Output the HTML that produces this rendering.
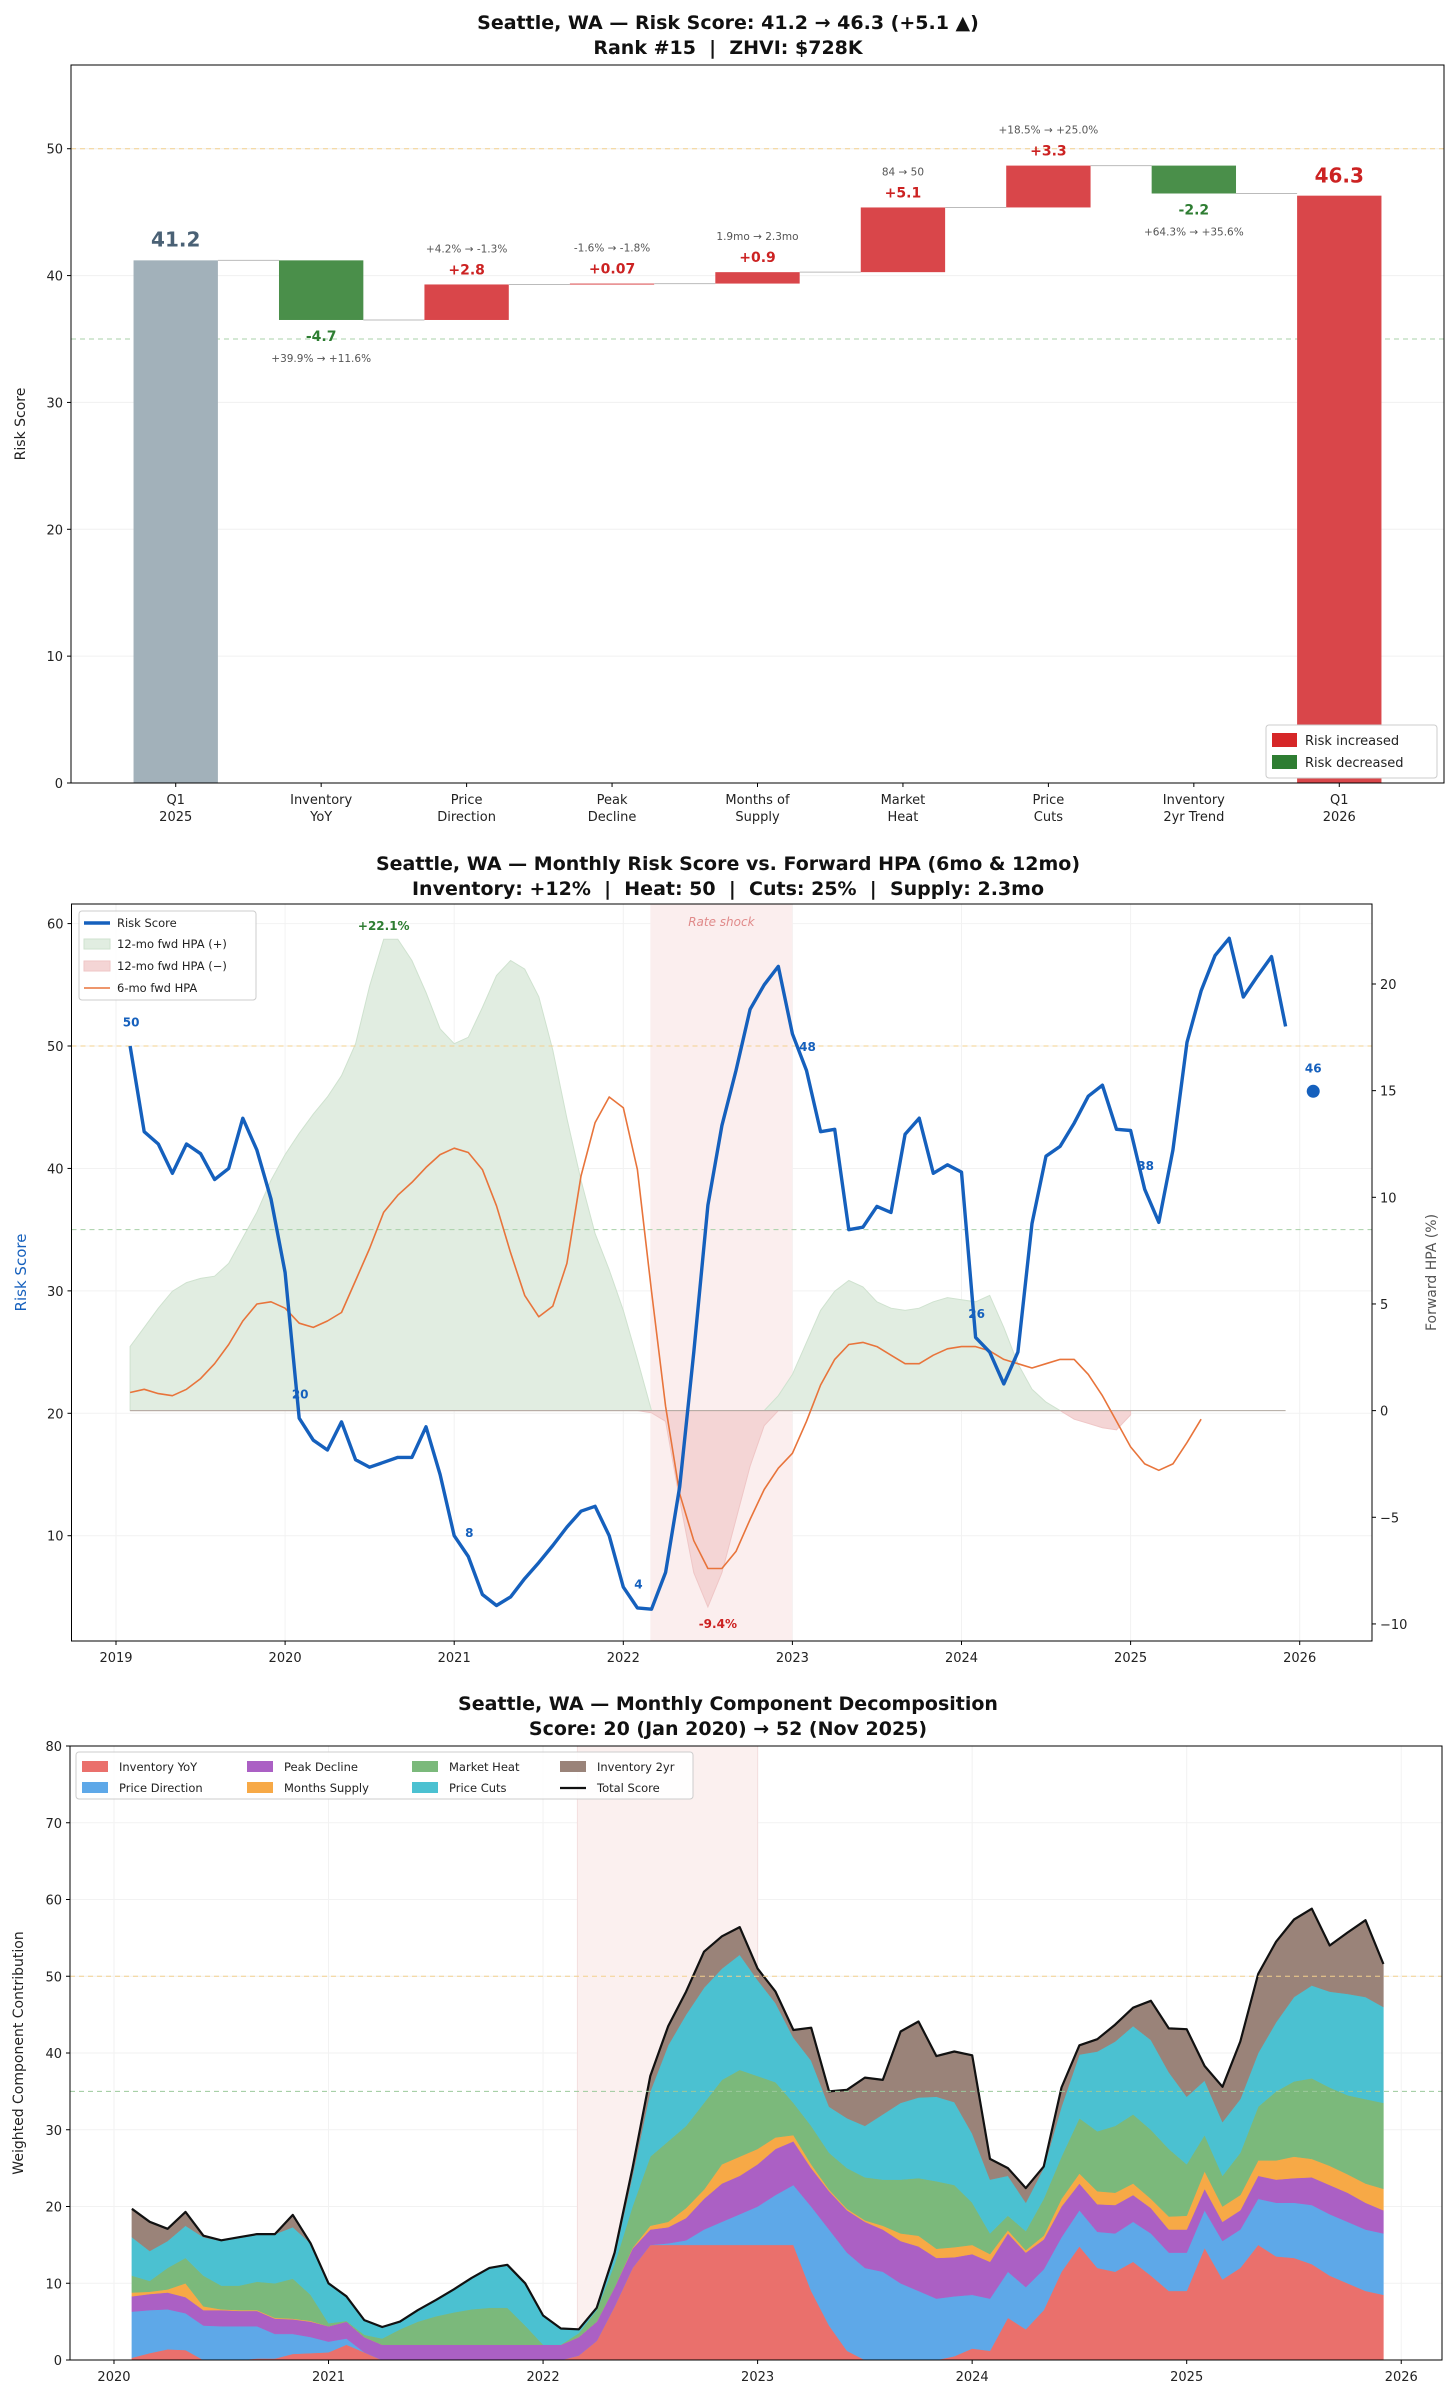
<!DOCTYPE html>
<html><head><meta charset="utf-8"><style>
html,body{margin:0;padding:0;background:#fff;}
svg{display:block;font-family:"DejaVu Sans","Liberation Sans",sans-serif;}
</style></head><body>
<svg id="chart" width="1456" height="2401" viewBox="0 0 1456 2401" xmlns="http://www.w3.org/2000/svg"></svg>
<script>
// ---------- DATA ----------
const p1Cats = [["Q1","2025"],["Inventory","YoY"],["Price","Direction"],["Peak","Decline"],["Months of","Supply"],["Market","Heat"],["Price","Cuts"],["Inventory","2yr Trend"],["Q1","2026"]];
const p1Start = 41.2;
const p1End = 46.3;
const p1Deltas = [-4.7, 2.8, 0.07, 0.9, 5.1, 3.3, -2.2];
const p1DeltaLabels = ["-4.7","+2.8","+0.07","+0.9","+5.1","+3.3","-2.2"];
const p1Notes = ["+39.9% → +11.6%","+4.2% → -1.3%","-1.6% → -1.8%","1.9mo → 2.3mo","84 → 50","+18.5% → +25.0%","+64.3% → +35.6%"];
const p1Ticks = [0,10,20,30,40,50];

const riskScore = [50,43,42,39.6,42,41.2,39.1,40,44.1,41.5,37.5,
31.5,19.6,17.8,17,19.3,16.2,15.6,16,16.4,16.4,18.9,15,
10,8.3,5.2,4.3,5,6.5,7.8,9.2,10.7,12,12.4,10,
5.8,4.1,4,7,14,25,37,43.5,48,53,55,56.5,
51,48,43,43.2,35,35.2,36.9,36.4,42.8,44.1,39.6,40.3,
39.7,26.2,25,22.4,25,35.5,41,41.8,43.7,45.9,46.8,43.2,
43.1,38.3,35.6,41.5,50.3,54.5,57.4,58.8,54,55.7,57.3,51.6];
const hpa12 = [3.0,3.9,4.8,5.6,6.0,6.2,6.3,6.9,8.1,9.3,10.8,
12.0,13.0,13.9,14.7,15.7,17.2,19.9,22.1,22.1,21.1,19.6,17.9,
17.2,17.5,18.9,20.4,21.1,20.7,19.4,16.9,13.7,10.8,8.3,6.6,
4.7,2.4,-0.1,-0.5,-4.2,-7.6,-9.2,-7.6,-5.1,-2.6,-0.7,0.7,
1.7,3.2,4.7,5.6,6.1,5.8,5.1,4.8,4.7,4.8,5.1,5.3,
5.2,5.1,5.4,3.9,2.2,1.0,0.4,0,-0.4,-0.6,-0.8,-0.9,-0.2];
const hpa6 = [0.85,1.0,0.8,0.7,1.0,1.5,2.2,3.1,4.2,5.0,5.1,
4.8,4.1,3.9,4.2,4.6,6.1,7.6,9.3,10.1,10.7,11.4,12.0,
12.3,12.1,11.3,9.6,7.4,5.4,4.4,4.9,6.9,11.0,13.5,14.7,
14.2,11.3,5.6,0.2,-3.9,-6.1,-7.4,-7.4,-6.6,-5.1,-3.7,-2.7,
-2.0,-0.5,1.2,2.4,3.1,3.2,3.0,2.6,2.2,2.2,2.6,2.9,
3.0,3.0,2.8,2.4,2.2,2.0,2.2,2.4,2.4,1.7,0.7,-0.5,
-1.7,-2.5,-2.8,-2.5,-1.5,-0.4];
const p2StartYear = 2019;
const p2Years = [2019,2020,2021,2022,2023,2024,2025,2026];
const p2LeftTicks = [10,20,30,40,50,60];
const p2RightTicks = [-10,-5,0,5,10,15,20];
const currentScore = 46.3;
const currentYear = 2026.08;
const rateShock = [2022.16, 2023.0];

const compNames = ["Inventory YoY","Price Direction","Peak Decline","Months Supply","Market Heat","Price Cuts","Inventory 2yr"];
const cInv = [0.3,0.9,1.4,1.3,0,0,0,0.2,0.2,0.8,0.9,1.0,2.0,1.0,0,0,0,0,0,0,0,0,0,0,0,0.6,2.5,7,12,15,15,15,15,15,15,15,15,15,9,4.5,1.2,0,0,0,0,0,0.5,1.5,1.2,5.5,4,6.5,11.5,14.8,12,11.5,12.8,11,9,9,14.6,10.5,12,15,13.5,13.3,12.5,11,10,9,8.5];
const cPrice = [6.0,5.6,5.2,4.8,4.5,4.4,4.4,4.2,3.2,2.6,2.1,1.4,0.8,0,0,0,0,0,0,0,0,0,0,0,0,0,0,0,0,0,0.2,0.6,2.0,3.0,4.0,5.0,6.5,7.8,11,12.5,12.8,12,11.5,10,9,8,7.8,7,6.8,6,5.5,5.3,4.5,4.7,4.7,5,5.2,5.5,5,5,4.9,5,5,6,7,7.2,7.7,8,8,8,8];
const cPeak = [2.0,2.1,2.2,2.1,2.0,2.1,2.0,2.0,2.0,1.9,2.0,2.0,2.2,2.0,2,2,2,2,2,2,2,2,2,2,2,2.4,2.5,2.5,2.5,2.0,2.1,2.9,4.0,5.0,5.0,5.5,6.0,5.7,5,5,5.5,6,5.5,5.5,5.8,5.3,5.1,5.3,4.8,5,4.5,3.9,4,3.5,3.6,3.7,3.5,3.3,3,3,2.8,2.5,2.5,3,3,3.2,3.6,3.8,3.8,3.5,3];
const cSupply = [0.5,0.3,0.4,1.8,0.5,0.1,0.1,0.1,0.1,0.1,0.1,0,0,0,0,0,0,0,0,0,0,0,0,0,0,0,0,0,0.1,0.5,0.7,1.3,1.2,2.5,2.5,2.0,1.5,0.8,0.5,0.2,0.2,0.2,0.5,1,1.4,1.2,1.3,1.2,1,0.4,0.3,0.5,1,1.3,1.7,1.6,1.5,1.2,1.7,1.8,2.3,2,2,2,2.5,2.8,2.4,2.5,2.4,2.5,2.8];
const cHeat = [2.2,1.4,2.8,3.3,4.0,3.1,3.2,3.7,4.5,5.2,3.4,0.4,0.1,0.3,0.8,2.0,3.0,3.7,4.2,4.6,4.8,4.8,2.5,0,0,0.5,1.5,3.0,5.4,9.0,10.5,10.7,11.3,11.0,11.3,9.5,7.2,4.2,5,4.8,5.3,5.6,6,7,7.5,8.8,8.1,5.5,2.7,1.9,2.5,4.8,5.5,7.2,7.8,8.7,9,9,8.8,6.7,4.7,4,5.5,7,9,9.8,10.5,10.2,10.3,11,11.2];
const cCuts = [5.0,3.9,3.5,4.2,5.0,5.8,6.2,6.1,6.4,6.7,6.7,5.2,3.2,1.9,1.5,1.0,1.5,2.1,3.0,4.1,5.2,5.6,5.5,3.8,2.1,0.5,0.3,1.0,4.0,8.5,12.5,14.5,15.0,14.5,15.0,12.5,10.3,8.5,8.5,6,6.5,6.7,8.5,10,10.5,11,10.8,9,7,5.2,3.7,4,6.5,8.3,10.4,11,11.5,11.7,10,8.8,7.1,7,7,7,9,11,12.1,12.5,13.2,13.3,12.5];
const cInv2 = [3.7,3.8,1.6,1.8,0.2,0.1,0.1,0.1,0,1.6,0,0,0,0,0,0,0,0,0,0,0,0,0,0,0,0,0,0.5,1.0,2.0,2.5,3.0,4.7,4.2,3.6,1.5,1.5,1.0,4.3,2,3.7,6.3,4.5,9.3,9.9,5.3,6.6,10.2,2.7,1,1.9,0.2,2.5,1.2,1.6,2.2,2.4,5.1,5.7,8.8,1.9,4.6,7.5,10.3,10.5,10.1,10,6,8,10,5.6];
const p3StartYear = 2020;
const p3Years = [2020,2021,2022,2023,2024,2025,2026];
const p3Ticks = [0,10,20,30,40,50,60,70,80];

// ---------- HELPERS ----------
const NS = "http://www.w3.org/2000/svg";
const svg = document.getElementById("chart");
function mk(tag, attrs, parent) {
  const e = document.createElementNS(NS, tag);
  for (const k in attrs) e.setAttribute(k, attrs[k]);
  (parent || svg).appendChild(e);
  return e;
}
function txt(str, attrs, parent) {
  const e = mk("text", attrs, parent);
  e.textContent = str;
  return e;
}
const NB = "\u00a0";

// ================= PANEL 1 =================
const g1 = mk("g", {});


const A1 = {l:71, r:1444, t:65, b:783, ymax:56.6, xmin:-0.72, xmax:8.72};
const x1 = i => A1.l + (i - A1.xmin) / (A1.xmax - A1.xmin) * (A1.r - A1.l);
const y1 = v => A1.b - v / A1.ymax * (A1.b - A1.t);

let t = txt("Seattle, WA — Risk Score: 41.2 → 46.3 (+5.1 ▲)", {x:728, y:29, "text-anchor":"middle", "font-size":19, "font-weight":"bold", fill:"#111"}, g1);


t = txt("Rank #15" + NB + NB + "|" + NB + NB + "ZHVI: $728K", {x:728, y:54, "text-anchor":"middle", "font-size":19, "font-weight":"bold", fill:"#111"}, g1);



p1Ticks.forEach(v => {
  const gl = mk("line", {x1:A1.l, x2:A1.r, y1:y1(v), y2:y1(v), stroke:"#f0f0f0", "stroke-width":1}, g1);
  
  
  const tk = mk("line", {x1:A1.l-4, x2:A1.l, y1:y1(v), y2:y1(v), stroke:"#000"}, g1);
  
  
  const tl = txt(String(v), {x:A1.l-8, y:y1(v)+5, "text-anchor":"end", "font-size":13, fill:"#222"}, g1);
  
  
});
let rl = mk("line", {x1:A1.l, x2:A1.r, y1:y1(50), y2:y1(50), stroke:"#f3d08e", "stroke-dasharray":"5,4", "stroke-width":1}, g1);


rl = mk("line", {x1:A1.l, x2:A1.r, y1:y1(35), y2:y1(35), stroke:"#a8d0a8", "stroke-dasharray":"5,4", "stroke-width":1}, g1);



const bw = 0.58;
const bwPx = x1(bw) - x1(0);
let b = mk("rect", {x:x1(0)-bwPx/2, y:y1(p1Start), width:bwPx, height:y1(0)-y1(p1Start), fill:"#a2b1ba"}, g1);


t = txt(p1Start.toFixed(1), {x:x1(0), y:y1(p1Start)-14, "text-anchor":"middle", "font-size":20, "font-weight":"bold", fill:"#4a6175"}, g1);



let level = p1Start;
p1Deltas.forEach((d, k) => {
  const i = k + 1;
  const prev = level;
  const next = level + d;
  const cn = mk("line", {x1:x1(i-1)+bwPx/2, x2:x1(i)-bwPx/2, y1:y1(prev), y2:y1(prev), stroke:"#bbb", "stroke-width":1}, g1);
  
  
  const top = Math.max(prev, next), bot = Math.min(prev, next);
  const pos = d >= 0;
  const r = mk("rect", {x:x1(i)-bwPx/2, y:y1(top), width:bwPx, height:Math.max(1, y1(bot)-y1(top)), fill: pos ? "#d9464a" : "#4a8f4a"}, g1);
  
  
  if (pos) {
    const dl = txt(p1DeltaLabels[k], {x:x1(i), y:y1(top)-10, "text-anchor":"middle", "font-size":14, "font-weight":"bold", fill:"#cc2222"}, g1);
    
    
    const nl = txt(p1Notes[k], {x:x1(i), y:y1(top)-32, "text-anchor":"middle", "font-size":10.5, fill:"#555"}, g1);
    
    
  } else {
    const dl = txt(p1DeltaLabels[k], {x:x1(i), y:y1(bot)+21, "text-anchor":"middle", "font-size":14, "font-weight":"bold", fill:"#2e7d32"}, g1);
    
    
    const nl = txt(p1Notes[k], {x:x1(i), y:y1(bot)+42, "text-anchor":"middle", "font-size":10.5, fill:"#555"}, g1);
    
    
  }
  level = next;
});
let cn2 = mk("line", {x1:x1(7)+bwPx/2, x2:x1(8)-bwPx/2, y1:y1(level), y2:y1(level), stroke:"#bbb", "stroke-width":1}, g1);


b = mk("rect", {x:x1(8)-bwPx/2, y:y1(p1End), width:bwPx, height:y1(0)-y1(p1End), fill:"#d9464a"}, g1);


t = txt(p1End.toFixed(1), {x:x1(8), y:y1(p1End)-13, "text-anchor":"middle", "font-size":20, "font-weight":"bold", fill:"#cc2222"}, g1);



p1Cats.forEach((c, i) => {
  const tk = mk("line", {x1:x1(i), x2:x1(i), y1:A1.b, y2:A1.b+4, stroke:"#000"}, g1);
  
  
  const tl = txt(c[0], {x:x1(i), y:A1.b+21, "text-anchor":"middle", "font-size":13, fill:"#222"}, g1);
  
  
  const tl2 = txt(c[1], {x:x1(i), y:A1.b+38, "text-anchor":"middle", "font-size":13, fill:"#222"}, g1);
  
  
});
let fr = mk("rect", {x:A1.l, y:A1.t, width:A1.r-A1.l, height:A1.b-A1.t, fill:"none", stroke:"#000", "stroke-width":1}, g1);


t = txt("Risk Score", {x:0, y:0, transform:`translate(25,${(A1.t+A1.b)/2}) rotate(-90)`, "text-anchor":"middle", "font-size":14, fill:"#222"}, g1);


const lg1 = mk("g", {}, g1);


mk("rect", {x:1266, y:725, width:171, height:53, fill:"#fff", stroke:"#ccc", rx:3}, lg1);
let le = mk("rect", {x:1272, y:733, width:25, height:14, fill:"#d62728"}, lg1);


le = txt("Risk increased", {x:1305, y:745, "font-size":13, fill:"#222"}, lg1);


le = mk("rect", {x:1272, y:755, width:25, height:14, fill:"#2e7d32"}, lg1);


le = txt("Risk decreased", {x:1305, y:767, "font-size":13, fill:"#222"}, lg1);



// ================= PANEL 2 =================
const g2 = mk("g", {});


const A2 = {l:71.5, r:1372, t:904, b:1641, ymin:1.4, ymax:61.6, rmin:-10.8, rmax:23.75};
const xYear2 = yr => 116 + (yr - 2019) * 169.1;
const mYear = i => p2StartYear + (i + 1) / 12;
const yL = v => A2.b - (v - A2.ymin) / (A2.ymax - A2.ymin) * (A2.b - A2.t);
const yR = v => A2.b - (v - A2.rmin) / (A2.rmax - A2.rmin) * (A2.b - A2.t);

t = txt("Seattle, WA — Monthly Risk Score vs. Forward HPA (6mo & 12mo)", {x:728, y:870, "text-anchor":"middle", "font-size":19, "font-weight":"bold", fill:"#111"}, g2);


t = txt("Inventory: +12%" + NB + NB + "|" + NB + NB + "Heat: 50" + NB + NB + "|" + NB + NB + "Cuts: 25%" + NB + NB + "|" + NB + NB + "Supply: 2.3mo", {x:728, y:895, "text-anchor":"middle", "font-size":19, "font-weight":"bold", fill:"#111"}, g2);



p2Years.forEach(yr => {
  const gl = mk("line", {x1:xYear2(yr), x2:xYear2(yr), y1:A2.t, y2:A2.b, stroke:"#f2f2f2"}, g2);
  
  
});
p2LeftTicks.forEach(v => {
  const gl = mk("line", {x1:A2.l, x2:A2.r, y1:yL(v), y2:yL(v), stroke:"#f2f2f2"}, g2);
  
  
});
let band = mk("rect", {x:xYear2(rateShock[0]), y:A2.t, width:xYear2(rateShock[1])-xYear2(rateShock[0]), height:A2.b-A2.t, fill:"#fbeeee"}, g2);


t = txt("Rate shock", {x:(xYear2(rateShock[0])+xYear2(rateShock[1]))/2, y:926, "text-anchor":"middle", "font-size":12, "font-style":"italic", fill:"#e08a8a"}, g2);



function fillPath(arr, sign) {
  let d = "";
  arr.forEach((v, i) => {
    const c = sign > 0 ? Math.max(v, 0) : Math.min(v, 0);
    d += (i ? "L" : "M") + xYear2(mYear(i)).toFixed(1) + "," + yR(c).toFixed(1);
  });
  for (let i = arr.length - 1; i >= 0; i--) d += "L" + xYear2(mYear(i)).toFixed(1) + "," + yR(0).toFixed(1);
  return d + "Z";
}
let fp = mk("path", {d:fillPath(hpa12, 1), fill:"#e1ede1", stroke:"#cfe2cf", "stroke-width":1}, g2);


fp = mk("path", {d:fillPath(hpa12, -1), fill:"#f4d5d5", stroke:"#efc6c6", "stroke-width":1}, g2);


let zl = mk("line", {x1:xYear2(mYear(0)), x2:xYear2(mYear(riskScore.length-1)), y1:yR(0), y2:yR(0), stroke:"#b0a8a0", "stroke-width":1}, g2);


rl = mk("line", {x1:A2.l, x2:A2.r, y1:yL(50), y2:yL(50), stroke:"#f3d08e", "stroke-dasharray":"5,4"}, g2);


rl = mk("line", {x1:A2.l, x2:A2.r, y1:yL(35), y2:yL(35), stroke:"#a8d0a8", "stroke-dasharray":"5,4"}, g2);



let d6 = hpa6.map((v, i) => (i ? "L" : "M") + xYear2(mYear(i)).toFixed(1) + "," + yR(v).toFixed(1)).join("");
let l6 = mk("path", {d:d6, fill:"none", stroke:"#e8743b", "stroke-width":1.6, "stroke-linejoin":"round"}, g2);


let dr = riskScore.map((v, i) => (i ? "L" : "M") + xYear2(mYear(i)).toFixed(1) + "," + yL(v).toFixed(1)).join("");
let lr = mk("path", {d:dr, fill:"none", stroke:"#1560bd", "stroke-width":3.4, "stroke-linejoin":"round"}, g2);


for (let i = 0; i < riskScore.length; i += 12) {
  const lab = txt(String(Math.round(riskScore[i])), {x:xYear2(mYear(i))+1, y:yL(riskScore[i]+2)+5, "text-anchor":"middle", "font-size":12, "font-weight":"bold", fill:"#1560bd"}, g2);
  
  
}
let dot = mk("circle", {cx:xYear2(currentYear), cy:yL(currentScore), r:6.5, fill:"#1560bd"}, g2);


t = txt(String(Math.round(currentScore)), {x:xYear2(currentYear), y:yL(currentScore)-19, "text-anchor":"middle", "font-size":12, "font-weight":"bold", fill:"#1560bd"}, g2);


const maxI = hpa12.indexOf(Math.max(...hpa12));
const minI = hpa12.indexOf(Math.min(...hpa12));
t = txt("+" + Math.max(...hpa12).toFixed(1) + "%", {x:xYear2(mYear(maxI)), y:yR(Math.max(...hpa12))-9, "text-anchor":"middle", "font-size":12, "font-weight":"bold", fill:"#2e7d32"}, g2);


t = txt("-9.4%", {x:xYear2(mYear(minI))+10, y:yR(Math.min(...hpa12))+21, "text-anchor":"middle", "font-size":12, "font-weight":"bold", fill:"#cc2222"}, g2);



p2LeftTicks.forEach(v => {
  const tk = mk("line", {x1:A2.l-4, x2:A2.l, y1:yL(v), y2:yL(v), stroke:"#000"}, g2);
  
  
  const tl = txt(String(v), {x:A2.l-8, y:yL(v)+5, "text-anchor":"end", "font-size":13, fill:"#222"}, g2);
  
  
});
p2RightTicks.forEach(v => {
  const tk = mk("line", {x1:A2.r, x2:A2.r+4, y1:yR(v), y2:yR(v), stroke:"#000"}, g2);
  
  
  const tl = txt(v < 0 ? "−" + Math.abs(v) : String(v), {x:A2.r+8, y:yR(v)+5, "font-size":13, fill:"#222"}, g2);
  
  
});
p2Years.forEach(yr => {
  const tk = mk("line", {x1:xYear2(yr), x2:xYear2(yr), y1:A2.b, y2:A2.b+4, stroke:"#000"}, g2);
  
  
  const tl = txt(String(yr), {x:xYear2(yr), y:A2.b+21, "text-anchor":"middle", "font-size":13, fill:"#222"}, g2);
  
  
});
fr = mk("rect", {x:A2.l, y:A2.t, width:A2.r-A2.l, height:A2.b-A2.t, fill:"none", stroke:"#000"}, g2);


t = txt("Risk Score", {x:0, y:0, transform:`translate(26,${(A2.t+A2.b)/2}) rotate(-90)`, "text-anchor":"middle", "font-size":15, fill:"#1560bd"}, g2);


t = txt("Forward HPA (%)", {x:0, y:0, transform:`translate(1436,${(A2.t+A2.b)/2}) rotate(-90)`, "text-anchor":"middle", "font-size":14, fill:"#555"}, g2);


const lg2 = mk("g", {}, g2);


mk("rect", {x:79, y:911, width:177, height:89, fill:"#fff", "fill-opacity":0.85, stroke:"#ccc", rx:3}, lg2);
le = mk("line", {x1:84, x2:110, y1:923, y2:923, stroke:"#1560bd", "stroke-width":3.4}, lg2);


le = txt("Risk Score", {x:117, y:927, "font-size":11.5, fill:"#222"}, lg2);


le = mk("rect", {x:84, y:939, width:26, height:10, fill:"#e1ede1", stroke:"#cfe2cf"}, lg2);


le = txt("12-mo fwd HPA (+)", {x:117, y:948, "font-size":11.5, fill:"#222"}, lg2);


le = mk("rect", {x:84, y:961, width:26, height:10, fill:"#f4d5d5", stroke:"#efc6c6"}, lg2);


le = txt("12-mo fwd HPA (−)", {x:117, y:970, "font-size":11.5, fill:"#222"}, lg2);


le = mk("line", {x1:84, x2:110, y1:988, y2:988, stroke:"#e8743b", "stroke-width":1.6}, lg2);


le = txt("6-mo fwd HPA", {x:117, y:992, "font-size":11.5, fill:"#222"}, lg2);



// ================= PANEL 3 =================
const g3 = mk("g", {});


const A3 = {l:70, r:1442, t:1746, b:2360, ymax:80, xmin:2019.795, xmax:2026.19};
const x3 = yr => A3.l + (yr - A3.xmin) / (A3.xmax - A3.xmin) * (A3.r - A3.l);
const y3 = v => A3.b - v / A3.ymax * (A3.b - A3.t);
const mYear3 = j => p3StartYear + (j + 1) / 12;

t = txt("Seattle, WA — Monthly Component Decomposition", {x:728, y:1710, "text-anchor":"middle", "font-size":19, "font-weight":"bold", fill:"#111"}, g3);


t = txt("Score: 20 (Jan 2020) → 52 (Nov 2025)", {x:728, y:1735, "text-anchor":"middle", "font-size":19, "font-weight":"bold", fill:"#111"}, g3);



p3Years.forEach(yr => {
  const gl = mk("line", {x1:x3(yr), x2:x3(yr), y1:A3.t, y2:A3.b, stroke:"#f2f2f2"}, g3);
  
  
});
p3Ticks.forEach(v => {
  const gl = mk("line", {x1:A3.l, x2:A3.r, y1:y3(v), y2:y3(v), stroke:"#f2f2f2"}, g3);
  
  
});
band = mk("rect", {x:x3(rateShock[0]), y:A3.t, width:x3(rateShock[1])-x3(rateShock[0]), height:A3.b-A3.t, fill:"#fbf0ef", stroke:"#f3dede"}, g3);



const comps = [cInv, cPrice, cPeak, cSupply, cHeat, cCuts, cInv2];
const compColors = ["#ea706c","#5ea8e8","#ab60c4","#f7a946","#7bb97b","#4bc1d1","#9a8379"];
const compKeys = ["inventory-yoy","price-direction","peak-decline","months-supply","market-heat","price-cuts","inventory-2yr"];
const base = cInv.map(() => 0);
comps.forEach((arr, k) => {
  const lower = base.slice();
  arr.forEach((v, j) => base[j] += v);
  let d = "";
  base.forEach((v, j) => d += (j ? "L" : "M") + x3(mYear3(j)).toFixed(1) + "," + y3(v).toFixed(1));
  for (let j = lower.length - 1; j >= 0; j--) d += "L" + x3(mYear3(j)).toFixed(1) + "," + y3(lower[j]).toFixed(1);
  const a = mk("path", {d:d + "Z", fill:compColors[k], stroke:compColors[k], "stroke-width":0.5}, g3);
  
  
});
let dt = base.map((v, j) => (j ? "L" : "M") + x3(mYear3(j)).toFixed(1) + "," + y3(v).toFixed(1)).join("");
let lt = mk("path", {d:dt, fill:"none", stroke:"#111", "stroke-width":2.2, "stroke-linejoin":"round"}, g3);


rl = mk("line", {x1:A3.l, x2:A3.r, y1:y3(50), y2:y3(50), stroke:"#f3d08e", "stroke-dasharray":"5,4"}, g3);


rl = mk("line", {x1:A3.l, x2:A3.r, y1:y3(35), y2:y3(35), stroke:"#9cc99c", "stroke-dasharray":"5,4"}, g3);



p3Ticks.forEach(v => {
  const tk = mk("line", {x1:A3.l-4, x2:A3.l, y1:y3(v), y2:y3(v), stroke:"#000"}, g3);
  
  
  const tl = txt(String(v), {x:A3.l-8, y:y3(v)+5, "text-anchor":"end", "font-size":13, fill:"#222"}, g3);
  
  
});
p3Years.forEach(yr => {
  const tk = mk("line", {x1:x3(yr), x2:x3(yr), y1:A3.b, y2:A3.b+4, stroke:"#000"}, g3);
  
  
  const tl = txt(String(yr), {x:x3(yr), y:A3.b+21, "text-anchor":"middle", "font-size":13, fill:"#222"}, g3);
  
  
});
fr = mk("rect", {x:A3.l, y:A3.t, width:A3.r-A3.l, height:A3.b-A3.t, fill:"none", stroke:"#000"}, g3);


t = txt("Weighted Component Contribution", {x:0, y:0, transform:`translate(23,${(A3.t+A3.b)/2}) rotate(-90)`, "text-anchor":"middle", "font-size":14, fill:"#222"}, g3);


const lg3 = mk("g", {}, g3);


mk("rect", {x:76, y:1752, width:617, height:47, fill:"#fff", "fill-opacity":0.9, stroke:"#ccc", rx:3}, lg3);
const legOrder = [[0,1],[2,3],[4,5],[6,-1]];
const colX = [82, 247, 412, 560];
legOrder.forEach((pair, c) => {
  pair.forEach((k, r) => {
    const yy = 1767 + r * 21;
    if (k >= 0) {
      const sw = mk("rect", {x:colX[c], y:yy-6, width:26, height:11, fill:compColors[k]}, lg3);
      
      
      const tl = txt(compNames[k], {x:colX[c]+37, y:yy+4, "font-size":11.5, fill:"#222"}, lg3);
      
      
    } else {
      const sw = mk("line", {x1:colX[c], x2:colX[c]+26, y1:yy, y2:yy, stroke:"#111", "stroke-width":2.2}, lg3);
      
      
      const tl = txt("Total Score", {x:colX[c]+37, y:yy+4, "font-size":11.5, fill:"#222"}, lg3);
      
      
    }
  });
});
</script>
</body></html>
